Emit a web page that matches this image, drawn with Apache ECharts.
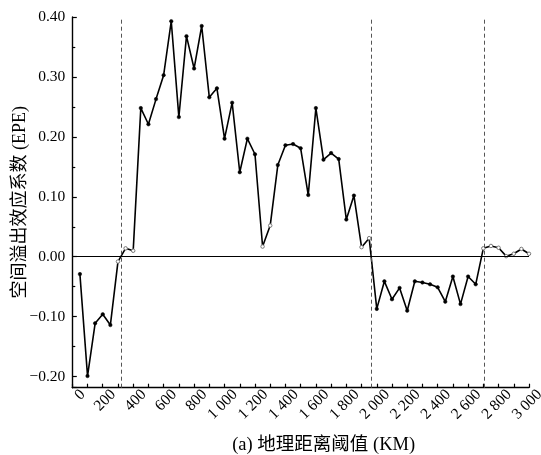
<!DOCTYPE html>
<html>
<head>
<meta charset="utf-8">
<script src="https://cdn.jsdelivr.net/npm/echarts@6/dist/echarts.min.js"></script>
<style>html,body{margin:0;padding:0;background:#fff}#c{width:541px;height:455px}</style>
</head>
<body>
<div id="c"></div>
<script>
const distances = [50,100,150,200,250,300,350,400,450,500,550,600,650,700,750,800,850,900,950,1000,
  1050,1100,1150,1200,1250,1300,1350,1400,1450,1500,1550,1600,1650,1700,1750,1800,1850,1900,1950,2000,
  2050,2100,2150,2200,2250,2300,2350,2400,2450,2500,2550,2600,2650,2700,2750,2800,2850,2900,2950,3000];
const epe = [-0.029,-0.199,-0.111,-0.096,-0.114,-0.008,0.014,0.010,0.248,0.221,0.263,0.303,0.393,0.233,0.368,0.314,0.385,0.266,0.281,0.197,
  0.257,0.141,0.197,0.171,0.017,0.052,0.153,0.186,0.188,0.181,0.103,0.248,0.162,0.173,0.163,0.062,0.102,0.016,0.031,-0.087,
  -0.041,-0.071,-0.052,-0.090,-0.041,-0.043,-0.046,-0.051,-0.075,-0.033,-0.079,-0.033,-0.046,0.014,0.018,0.015,0.001,0.005,0.013,0.005];
const hollowAt = [300,350,400,1250,1300,1900,1950,2700,2750,2800,2850,2900,2950,3000];
const thresholds = [320, 1967, 2705];
const yTicks = [-0.2,-0.1,0,0.1,0.2,0.3,0.4];

const FONT = "'Liberation Serif','Times New Roman','Noto Sans CJK SC',serif";
const data = distances.map((d, i) => {
  const hollow = hollowAt.indexOf(d) >= 0;
  return {
    value: [d, epe[i]],
    itemStyle: hollow ? {color: '#fff', borderColor: '#777', borderWidth: 1} : {color: '#000', borderColor: '#000', borderWidth: 0.5}
  };
});

const chart = echarts.init(document.getElementById('c'), null, {renderer: 'canvas'});
chart.setOption({
  animation: false,
  backgroundColor: '#fff',
  grid: {left: 72.3, right: 12, top: 17, bottom: 67.3, outerBoundsMode: 'none', containLabel: false},
  xAxis: {
    type: 'value', min: 0, max: 3000, interval: 200,
    name: '(a) 地理距离阈值 (KM)', nameLocation: 'middle', nameGap: 48, nameMoveOverlap: false,
    nameTextStyle: {fontFamily: FONT, fontSize: 18.5, color: '#000', padding: [0, 0, 0, 46]},
    axisLine: {show: true, onZero: false, lineStyle: {color: '#000', width: 1.4}},
    axisTick: {show: true, inside: true, length: 4, lineStyle: {color: '#000', width: 1.2}},
    minorTick: {show: true, splitNumber: 2, length: 4, lineStyle: {color: '#000', width: 1.2}},
    splitLine: {show: false},
    axisLabel: {
      rotate: 45, margin: 15, padding: [0, -15, 0, 0], fontFamily: FONT, fontSize: 15.5, color: '#000',
      formatter: v => v >= 1000 ? String(v).replace(/(\d)(\d{3})$/, '$1 $2') : String(v)
    }
  },
  yAxis: {
    type: 'value', min: -0.2185, max: 0.4,
    name: '空间溢出效应系数 (EPE)', nameLocation: 'middle', nameGap: 43, nameMoveOverlap: false,
    nameTextStyle: {fontFamily: FONT, fontSize: 18, color: '#000'},
    axisLine: {show: true, onZero: false, lineStyle: {color: '#000', width: 1.4}},
    axisTick: {show: true, inside: true, length: 4.5, lineStyle: {color: '#000', width: 1.2}},
    minorTick: {show: true, splitNumber: 2, length: 3, lineStyle: {color: '#000', width: 1.2}},
    splitLine: {show: false},
    axisLabel: {
      margin: 7, fontFamily: FONT, fontSize: 15.5, color: '#000',
      formatter: v => {
        const hit = yTicks.find(t => Math.abs(t - v) < 1e-6);
        return hit === undefined ? '' : hit.toFixed(2).replace('-', '\u2212');
      }
    }
  },
  series: [{
    type: 'line',
    data: data,
    symbol: 'circle', symbolSize: 3.5,
    lineStyle: {color: '#000', width: 1.6},
    z: 3,
    markLine: {
      silent: true, symbol: 'none', label: {show: false},
      data: [
        {yAxis: 0, lineStyle: {color: '#000', type: 'solid', width: 1}},
        ...thresholds.map(t => ({xAxis: t, lineStyle: {color: '#555', type: [4, 3], width: 1}}))
      ]
    }
  }]
});
</script>
</body>
</html>
